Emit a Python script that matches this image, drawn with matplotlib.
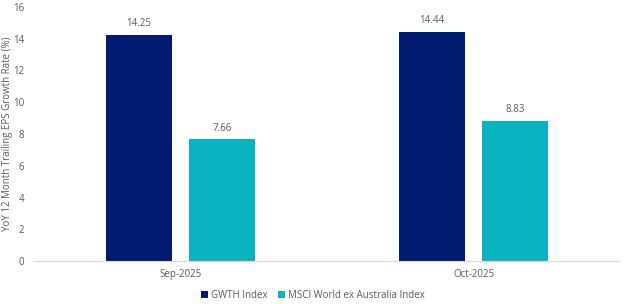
import numpy as np
import matplotlib
matplotlib.use("Agg")
import matplotlib.pyplot as plt

# data
categories = ["Sep-2025", "Oct-2025"]
gwth = [14.25, 14.44]
msci = [7.66, 8.83]
series_names = ["GWTH Index", "MSCI World ex Australia Index"]

navy = "#001A70"
teal = "#0BB3C1"
grey = "#595959"

plt.rcParams['font.family'] = ['Open Sans', 'DejaVu Sans']

fig = plt.figure(figsize=(6.24, 3.04), dpi=100)
ax = fig.add_axes([0.0545, 0.1414, 0.9395, 0.8356])

x = np.arange(len(categories))
w = 0.225
off = 0.1416
b1 = ax.bar(x - off, gwth, w, color=navy, label=series_names[0])
b2 = ax.bar(x + off, msci, w, color=teal, label=series_names[1])

for bars, vals in [(b1, gwth), (b2, msci)]:
    for b, v in zip(bars, vals):
        ax.text(b.get_x() + b.get_width() / 2, v + 0.35, f"{v:.2f}",
                ha="center", va="bottom", fontsize=7, color=grey)

ax.set_xlim(-0.5, 1.5)
ax.set_ylim(0, 16)
ax.set_yticks(range(0, 17, 2))
ax.set_xticks(x)
ax.set_xticklabels(categories)
ax.tick_params(axis="both", length=0, labelsize=7, colors=grey)
ax.tick_params(axis="x", pad=6)
ax.tick_params(axis="y", pad=7)

for s in ["top", "right", "left"]:
    ax.spines[s].set_visible(False)
ax.spines["bottom"].set_color("#D9D9D9")

ax.set_ylabel("YoY 12 Month Trailing EPS Growth Rate (%)", fontsize=7, color=grey)
ax.yaxis.set_label_coords(-0.036, 0.5)

fig.legend(loc="center", bbox_to_anchor=(0.502, 0.027), ncol=2, frameon=False,
           fontsize=7, labelcolor=grey, handlelength=0.7, handleheight=0.7,
           handletextpad=0.3, columnspacing=1.1)

fig.savefig("out.png", dpi=100)
